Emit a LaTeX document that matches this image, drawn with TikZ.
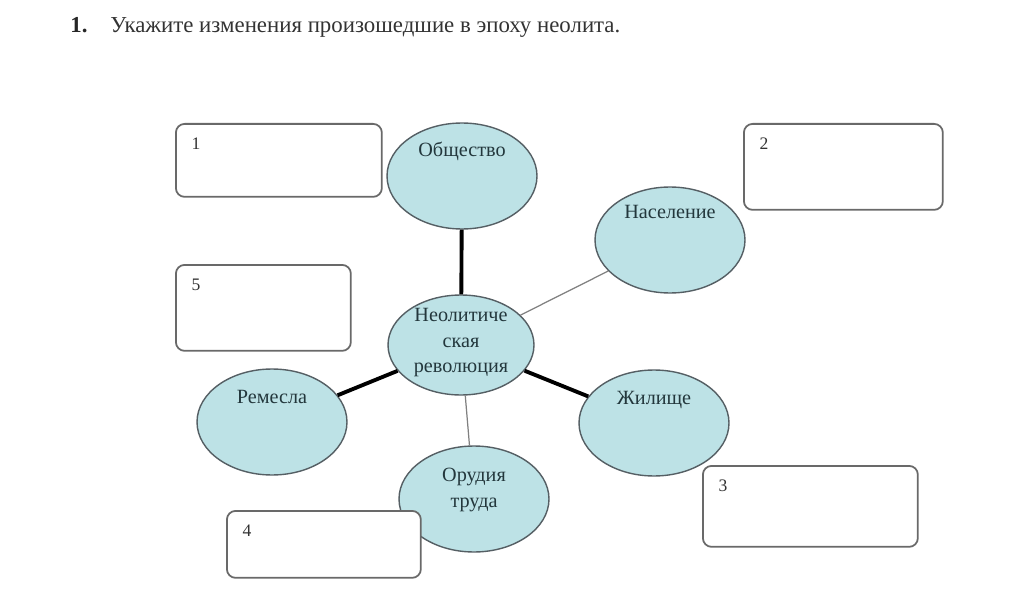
\documentclass[tikz,border=0pt]{standalone}
\usepackage{fontspec}
\setmainfont{Liberation Serif}
\usetikzlibrary{shapes.geometric}
\definecolor{bubblefill}{RGB}{189,226,230}
\definecolor{rim}{RGB}{85,95,100}
\definecolor{ink}{RGB}{35,55,60}
\definecolor{boxrim}{RGB}{105,105,105}
\tikzset{
	bubble/.style={ellipse,draw=rim,line width=0.8pt,fill=bubblefill,inner sep=0pt,
		minimum width=3cm,minimum height=2.12cm},
	btext/.style={text=ink,font=\fontsize{11.5}{14.5}\selectfont,align=center,inner sep=0pt},
	answer/.style={draw=boxrim,line width=1pt,rounded corners=5pt,fill=white,inner sep=0pt,anchor=north west},
	numtext/.style={text=black!80,font=\fontsize{10}{12}\selectfont,inner sep=0pt},
	strong/.style={line width=2.2pt,black},
	weak/.style={line width=0.7pt,black!50}
}
\begin{document}
\begin{tikzpicture}[x=0.02cm,y=-0.02cm]
\useasboundingbox[fill=white] (0,0) rectangle (1034,611);
% task
\node[anchor=base west,inner sep=0pt,font=\fontsize{13}{15}\selectfont,text=black!85] (tasknum) at (70,33) {\textbf{1.}};
\node[anchor=base west,inner sep=0pt,font=\fontsize{13}{15}\selectfont,text=black!80] (task) at (110,33) {Укажите изменения произошедшие в эпоху неолита.};
% bubbles
\node[bubble,minimum width=2.92cm,minimum height=2cm] (neo) at (461,345) {};
\node[bubble] (obsh) at (462,176) {};
\node[bubble] (nasel) at (670,240) {};
\node[bubble] (zhil) at (654,423) {};
\node[bubble] (orud) at (474,499) {};
\node[bubble] (rem) at (272,422) {};
\draw[strong] (neo) -- (obsh);
\draw[weak] (neo) -- (nasel);
\draw[strong] (neo) -- (zhil);
\draw[weak] (neo) -- (orud);
\draw[strong] (neo) -- (rem);
\node[btext] (neolbl) at ([shift={(0,-2)}]neo.center) {Неолитиче\\ская\\революция};
\node[btext,anchor=base] (obshlbl) at ([shift={(0,-19)}]obsh.center) {Общество};
\node[btext,anchor=base] (nasellbl) at ([shift={(0,-22)}]nasel.center) {Население};
\node[btext,anchor=base] (zhillbl) at ([shift={(0,-19)}]zhil.center) {Жилище};
\node[btext] (orudlbl) at ([shift={(0,-9)}]orud.center) {Орудия\\труда};
\node[btext,anchor=base] (remlbl) at ([shift={(0,-19)}]rem.center) {Ремесла};
% answer boxes
\foreach \n/\x/\y/\w/\h in {1/175/123/4.12/1.46,2/743/123/3.98/1.72,3/702/465/4.30/1.62,4/226/510/3.88/1.34,5/175/264/3.50/1.72}{
	\node[answer,minimum width=\w cm,minimum height=\h cm] (box\n) at (\x,\y) {};
	\node[numtext] (num\n) at ([shift={(21,21)}]box\n.north west) {\n};
}
\end{tikzpicture}
\end{document}
